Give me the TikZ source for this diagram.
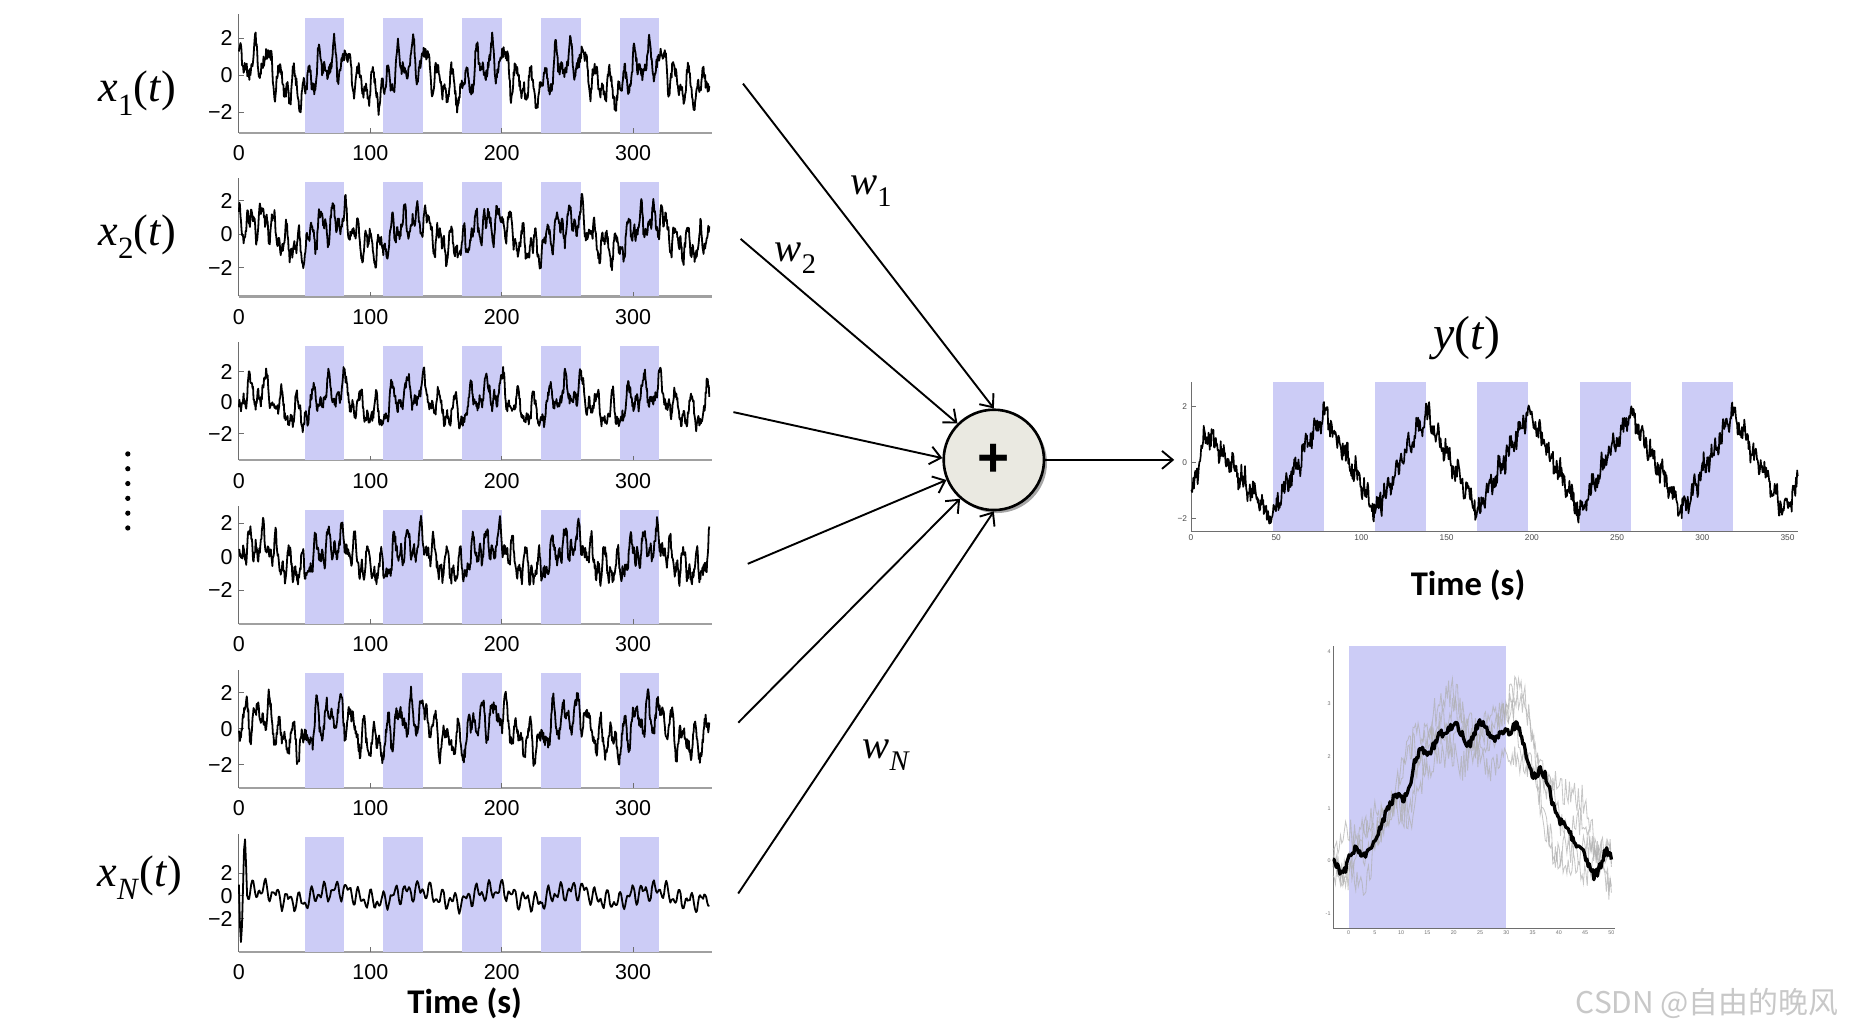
\documentclass[tikz,border=0pt]{standalone}
\usepackage{fontspec}
\usepackage{graphicx}
\setmainfont{Liberation Serif}
\newfontfamily\ticksf{Liberation Sans}
\newfontfamily\calib{Carlito}
\newfontfamily\cjkfont{Noto Sans CJK SC}
\usetikzlibrary{arrows.meta,shadows}
\definecolor{band}{RGB}{204,204,246}
\definecolor{sumfill}{RGB}{234,233,225}
\definecolor{axgray}{RGB}{110,110,110}
\definecolor{xaxgray}{RGB}{160,160,160}
\definecolor{wmgray}{RGB}{200,200,200}
\definecolor{ghost}{RGB}{175,175,175}
\newcommand\mysub[1]{\raisebox{-0.3em}{\scalebox{0.7}{#1}}}
\tikzset{
  sig/.style={black,line width=1.5pt,line join=round},
  sigb/.style={black,line width=1.4pt,line join=round},
  yaxis/.style={axgray,line width=0.9pt},
  xaxis/.style={xaxgray,line width=1.8pt},
  tk/.style={font=\ticksf\fontsize{18}{18}\selectfont,inner sep=1pt},
  tiny/.style={font=\ticksf\fontsize{7}{7}\selectfont,inner sep=1pt,text=black!70},
  micro/.style={font=\ticksf\fontsize{4.5}{4.5}\selectfont,inner sep=1pt,text=black!55},
  ml/.style={font=\fontsize{37}{37}\selectfont,inner sep=0pt},
  wl/.style={font=\fontsize{34}{34}\selectfont,inner sep=0pt},
  ttl/.style={font=\calib\bfseries\fontsize{29}{29}\selectfont,inner sep=0pt},
  arr/.style={line width=1.6pt,-{Straight Barb[length=9pt,width=15pt]}},
}
% #1 prefix, #2 bottom, #3 zero, #4 px per unit, #5 samples, #6 expression
\newcommand\leftplot[6]{%
  \draw[xaxis] (200,#2) -- (596,#2);
  \foreach \s in {50,110,170,230,290}
    \fill[band] ({200+1.1*\s},{#2-96}) rectangle ({200+1.1*(\s+30)},#2);
  \draw[yaxis] (200,#2) -- (200,{#2-99});
  \foreach \v in {-2,0,2} \draw[yaxis] (200,{#3-(\v)*#4}) -- (204,{#3-(\v)*#4});
  \foreach \v in {100,200,300} \draw[yaxis] ({200+1.1*\v},#2) -- ({200+1.1*\v},{#2-4});
  \begin{scope}[shift={(200,#3)},x=1.1pt,y=#4pt]
    \draw[sig] plot[domain=0:358,samples=#5,variable=\t] (\t,{#6});
  \end{scope}
  \node[tk,anchor=east] (#1y2) at (196,{#3-2*#4}) {2};
  \node[tk,anchor=east] (#1y0) at (196,#3) {0};
  \node[tk,anchor=east] (#1ym) at (196,{#3+2*#4}) {−2};
  \node[tk] (#1x0) at (200,{#2+17}) {0};
  \node[tk] (#1x1) at (310,{#2+17}) {100};
  \node[tk] (#1x2) at (420,{#2+17}) {200};
  \node[tk] (#1x3) at (530,{#2+17}) {300};
}
\begin{document}
\begin{tikzpicture}[x=1pt,y=-1pt,
  declare function={
    tri(\u)=ifthenelse(mod(\u+10,60)<30,-1+mod(\u+10,60)/15,3-mod(\u+10,60)/15);
    trib(\u)=ifthenelse(mod(\u+12,60)<30,-1+mod(\u+12,60)/15,3-mod(\u+12,60)/15);
    clamp(\u)=min(max(\u,0),1);
    resp(\u)=2*clamp(mod(\u+10,60)/10)-2*clamp((mod(\u+10,60)-32)/10)-1;
    gg(\u)=2.45*clamp((\u-2)/15)-2.5*clamp((\u-32)/13)+0.15*sin(60*\u);
  }]
\pgfmathsetseed{4242}
\useasboundingbox (0,0) rectangle (1568,867);
\fill[white] (0,0) rectangle (1568,867);

% ---------- left input signals ----------
\leftplot{pa}{111}{63}{15.5}{900}{0.55*resp(\t)+0.3*tri(\t)+0.7*sin(36*\t+20)+0.45*sin(60*mod(\t,6)+60)+0.25*sin(90*mod(\t,4))+0.33*rand}
\leftplot{pb}{248.2}{196}{14}{900}{0.55*resp(\t)+0.35*tri(\t)+0.7*sin(40*mod(\t,9)+100)+0.45*sin(72*mod(\t,5)+10)+0.25*sin(120*mod(\t,3)+40)+0.33*rand}
\leftplot{pc}{385.4}{337}{13}{900}{0.5*resp(\t)+0.3*tri(\t)+0.8*sin(30*mod(\t,12)+200)+0.45*sin(60*mod(\t,6)+300)+0.25*sin(100*mod(\t,3.6)+80)+0.33*rand}
\leftplot{pd}{522.6}{466}{14}{900}{0.5*resp(\t)+0.35*tri(\t)+0.7*sin(36*\t+150)+0.5*sin(72*mod(\t,5)+220)+0.25*sin(120*mod(\t,3)+10)+0.33*rand}
\leftplot{pe}{659.8}{610}{15}{900}{0.55*resp(\t)+0.3*tri(\t)+0.75*sin(40*mod(\t,9)+250)+0.45*sin(60*mod(\t,6)+120)+0.25*sin(90*mod(\t,4)+200)+0.33*rand}
\leftplot{pf}{797}{750}{9.5}{460}{0.3*resp(\t)+0.25*tri(\t)+0.55*sin(40*mod(\t,9)+30)+0.45*sin(72*mod(\t,5)+70)+0.1*rand+ifthenelse(\t<6,-4.8*sin(60*mod(\t,6)),0)}

\node[ttl] (tleft) at (389,840) {Time (s)};

% labels
\node[ml] (lx1) at (115,78) {\textit{x}\mysub{1}(\textit{t})};
\node[ml] (lx2) at (115,198) {\textit{x}\mysub{2}(\textit{t})};
\node[ml] (lxN) at (117,735) {\textit{x}\mysub{\textit{N}}(\textit{t})};
\foreach \k in {0,...,5} \fill[black] (107,{380+12.4*\k}) circle (2.2);

% ---------- summation node ----------
\node[circle,draw=black,line width=2.2pt,fill=sumfill,minimum size=84pt,inner sep=0pt,
      drop shadow={shadow xshift=2.5pt,shadow yshift=-2.5pt,fill=black,opacity=0.35},
      font=\ticksf\bfseries\fontsize{46}{46}\selectfont] (sum) at (832,385) {+};

\coordinate (s1) at (622,70);
\coordinate (s2) at (620,200);
\coordinate (s3) at (614,345);
\coordinate (s4) at (626,472);
\coordinate (s5) at (618,605);
\coordinate (s6) at (618,748);
\coordinate (out) at (983,385);
\draw[arr] (s1) -- (sum.north);
\draw[arr] (s2) -- (sum.135);
\draw[arr] (s3) -- (sum.178);
\draw[arr] (s4) -- (sum.203);
\draw[arr] (s5) -- (sum.229);
\draw[arr] (s6) -- (sum.south);
\draw[arr] (sum.east) -- (out);

\node[wl] (w1) at (729,160) {\textit{w}\mysub{1}};
\node[wl] (w2) at (666,216) {\textit{w}\mysub{2}};
\node[wl] (wN) at (742,632) {\textit{w}\mysub{\textit{N}}};

% ---------- output y(t) ----------
\node[font=\fontsize{40}{40}\selectfont,inner sep=0pt] (ly) at (1228,283) {\textit{y}(\textit{t})};
\begin{scope}[shift={(997,387)},x=1.427pt,y=23.5pt]
  \foreach \s in {48,108,168,228,288} \fill[band] (\s,-2.47) rectangle ({\s+30},2.85);
  \draw[yaxis,line width=0.7pt] (0,-2.47) -- (0,2.85);
  \draw[yaxis,line width=0.7pt] (0,-2.47) -- (356,-2.47);
  \foreach \v in {-2,0,2} \draw[yaxis,line width=0.6pt] (0,\v) -- (3,\v);
  \draw[sigb] plot[domain=0:356,samples=1000,variable=\t]
    (\t,{ifthenelse(\t<48,ifthenelse(\t<9,-1.3+0.27*\t,1.1-3.1*(\t-9)/39),1.75*trib(\t))+0.2*sin(60*mod(\t,6)+30)+0.15*sin(150*mod(\t,2.4))+0.32*rand});
  \foreach \v [count=\i] in {0,50,...,350} \node[tiny,below=1pt] (ytx\i) at (\v,-2.47) {\v};
  \node[tiny,left=2pt] (yty1) at (0,2) {2};
  \node[tiny,left=2pt] (yty2) at (0,0) {0};
  \node[tiny,left=2pt] (yty3) at (0,-2) {−2};
\end{scope}
\node[ttl] (tright) at (1229,490) {Time (s)};

% ---------- averaged response ----------
\begin{scope}[shift={(1129,720.8)},x=4.4pt,y=43.9pt]
  \fill[band] (0,-1.28) rectangle (30,4.1);
  \draw[yaxis,line width=0.6pt] (-2.95,-1.28) -- (-2.95,4.1);
  \draw[yaxis,line width=0.6pt] (-2.95,-1.28) -- (50.7,-1.28);
  \draw[ghost,line width=0.7pt,opacity=0.7] plot[domain=-3:50,samples=220,variable=\t] (\t,{1.15*gg(\t-1)+0.45*sin(25*\t+10)+0.3*rand});
  \draw[ghost,line width=0.7pt,opacity=0.7] plot[domain=-3:50,samples=220,variable=\t] (\t,{0.9*gg(\t+2)+0.4*sin(32*\t+100)+0.3*rand});
  \draw[ghost,line width=0.7pt,opacity=0.7] plot[domain=-3:50,samples=220,variable=\t] (\t,{1.05*gg(\t+1)+0.4*sin(20*\t+200)+0.3*rand-0.2});
  \draw[ghost,line width=0.7pt,opacity=0.7] plot[domain=-3:50,samples=220,variable=\t] (\t,{0.95*gg(\t-2)+0.45*sin(28*\t+300)+0.3*rand+0.25});
  \draw[black,line width=2.8pt,line join=round] plot[domain=-3:50,samples=240,variable=\t] (\t,{gg(\t)+0.08*sin(90*\t)+0.09*rand});
  \foreach \v [count=\i] in {0,5,...,50} \node[micro,below=1pt] (avx\i) at (\v,-1.28) {\v};
  \foreach \v [count=\i] in {-1,0,...,4} \node[micro,left=1pt] (avy\i) at (-2.95,\v) {\v};
\end{scope}

% ---------- watermark ----------
\node[font=\cjkfont\fontsize{25}{25}\selectfont,text=wmgray,inner sep=0pt] (wm) at (1429,840) {CSDN @自由的晚风};
\end{tikzpicture}
\end{document}
